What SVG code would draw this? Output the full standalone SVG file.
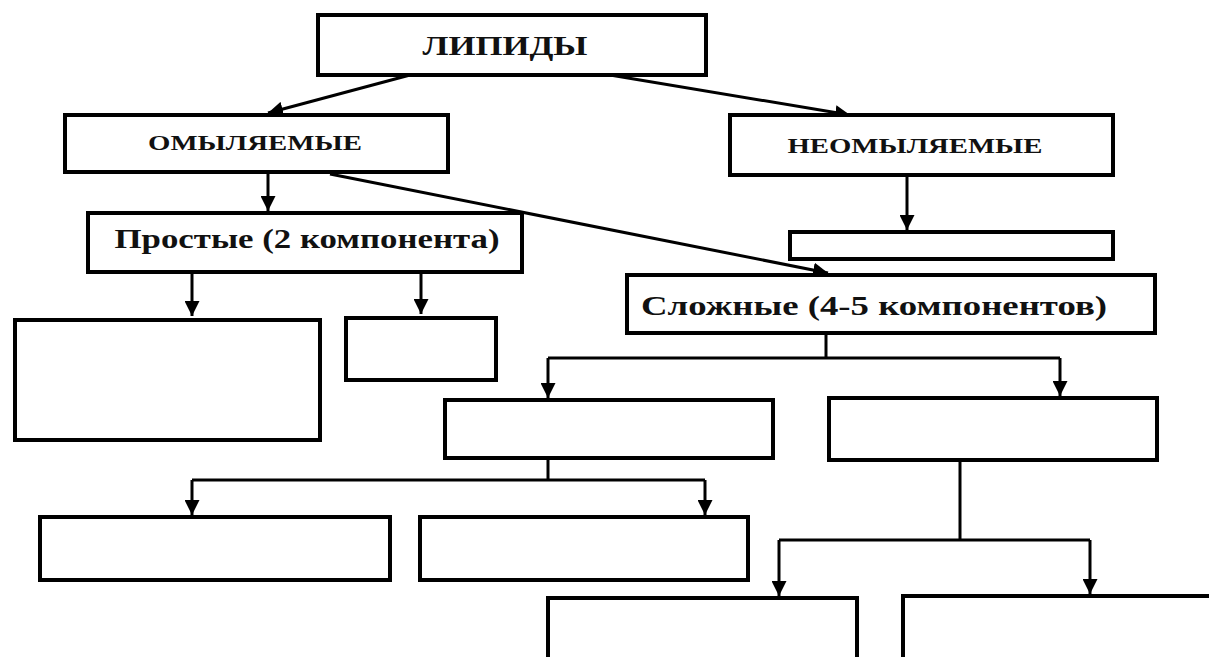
<svg xmlns="http://www.w3.org/2000/svg" width="1209" height="657" viewBox="0 0 1209 657">
<style>
.box{fill:#fff;stroke:#000;stroke-width:4}
.lbl{font-family:"Liberation Serif","Times New Roman",serif;font-weight:bold;fill:#111}
.con{fill:none;stroke:#000;stroke-width:3}
</style>
<defs>
<marker id="ah" viewBox="0 0 10 10" refX="10" refY="5" markerWidth="5" markerHeight="5" markerUnits="strokeWidth" orient="auto">
<path d="M0,0 L10,5 L0,10 z" fill="#000"/>
</marker>
</defs>
<rect width="1209" height="657" fill="#fff"/>
<g id="connectors">
<path class="con" d="M410,75 L268,113" marker-end="url(#ah)"/>
<path class="con" d="M610,75 L850,115" marker-end="url(#ah)"/>
<path class="con" d="M268,172 L268,211" marker-end="url(#ah)"/>
<path class="con" d="M330,174 L828,273" marker-end="url(#ah)"/>
<path class="con" d="M907,175 L907,230" marker-end="url(#ah)"/>
<path class="con" d="M192,272 L192,316" marker-end="url(#ah)"/>
<path class="con" d="M421,272 L421,314" marker-end="url(#ah)"/>
<path class="con" d="M826,333 L826,358"/>
<path class="con" d="M548,358 L1060,358"/>
<path class="con" d="M548,358 L548,398" marker-end="url(#ah)"/>
<path class="con" d="M1060,358 L1060,396" marker-end="url(#ah)"/>
<path class="con" d="M548,458 L548,480"/>
<path class="con" d="M192,480 L705,480"/>
<path class="con" d="M192,480 L192,515" marker-end="url(#ah)"/>
<path class="con" d="M705,480 L705,515" marker-end="url(#ah)"/>
<path class="con" d="M960,460 L960,540"/>
<path class="con" d="M779,540 L1090,540"/>
<path class="con" d="M779,540 L779,596" marker-end="url(#ah)"/>
<path class="con" d="M1090,540 L1090,594" marker-end="url(#ah)"/>
</g>
<g id="lipidy">
<rect class="box" x="318" y="15" width="388" height="60"/>
<text class="lbl" x="505" y="55" font-size="27" text-anchor="middle" textLength="165" lengthAdjust="spacingAndGlyphs">ЛИПИДЫ</text>
</g>
<g id="omylyaemye">
<rect class="box" x="65" y="115" width="383" height="57"/>
<text class="lbl" x="255" y="150" font-size="21" text-anchor="middle" textLength="214" lengthAdjust="spacingAndGlyphs">ОМЫЛЯЕМЫЕ</text>
</g>
<g id="neomylyaemye">
<rect class="box" x="730" y="115" width="383" height="60"/>
<text class="lbl" x="915" y="153" font-size="21" text-anchor="middle" textLength="255" lengthAdjust="spacingAndGlyphs">НЕОМЫЛЯЕМЫЕ</text>
</g>
<g id="prostye">
<rect class="box" x="88" y="213" width="434" height="59"/>
<text class="lbl" x="307" y="248" font-size="28" text-anchor="middle" textLength="385" lengthAdjust="spacingAndGlyphs">Простые (2 компонента)</text>
</g>
<g id="neomyl-empty">
<rect class="box" x="790" y="232" width="323" height="27"/>
</g>
<g id="slozhnye">
<rect class="box" x="627" y="275" width="528" height="58"/>
<text class="lbl" x="874" y="315" font-size="28" text-anchor="middle" textLength="466" lengthAdjust="spacingAndGlyphs">Сложные (4-5 компонентов)</text>
</g>
<g id="prost-left"><rect class="box" x="15" y="320" width="305" height="120"/></g>
<g id="prost-right"><rect class="box" x="346" y="318" width="150" height="62"/></g>
<g id="slozh-left"><rect class="box" x="445" y="400" width="328" height="58"/></g>
<g id="slozh-right"><rect class="box" x="829" y="398" width="328" height="62"/></g>
<g id="bottom-1"><rect class="box" x="40" y="517" width="350" height="63"/></g>
<g id="bottom-2"><rect class="box" x="420" y="517" width="328" height="63"/></g>
<g id="bottom-3"><rect class="box" x="548" y="598" width="309" height="64"/></g>
<g id="bottom-4"><rect class="box" x="903" y="596" width="310" height="66"/></g>
</svg>
